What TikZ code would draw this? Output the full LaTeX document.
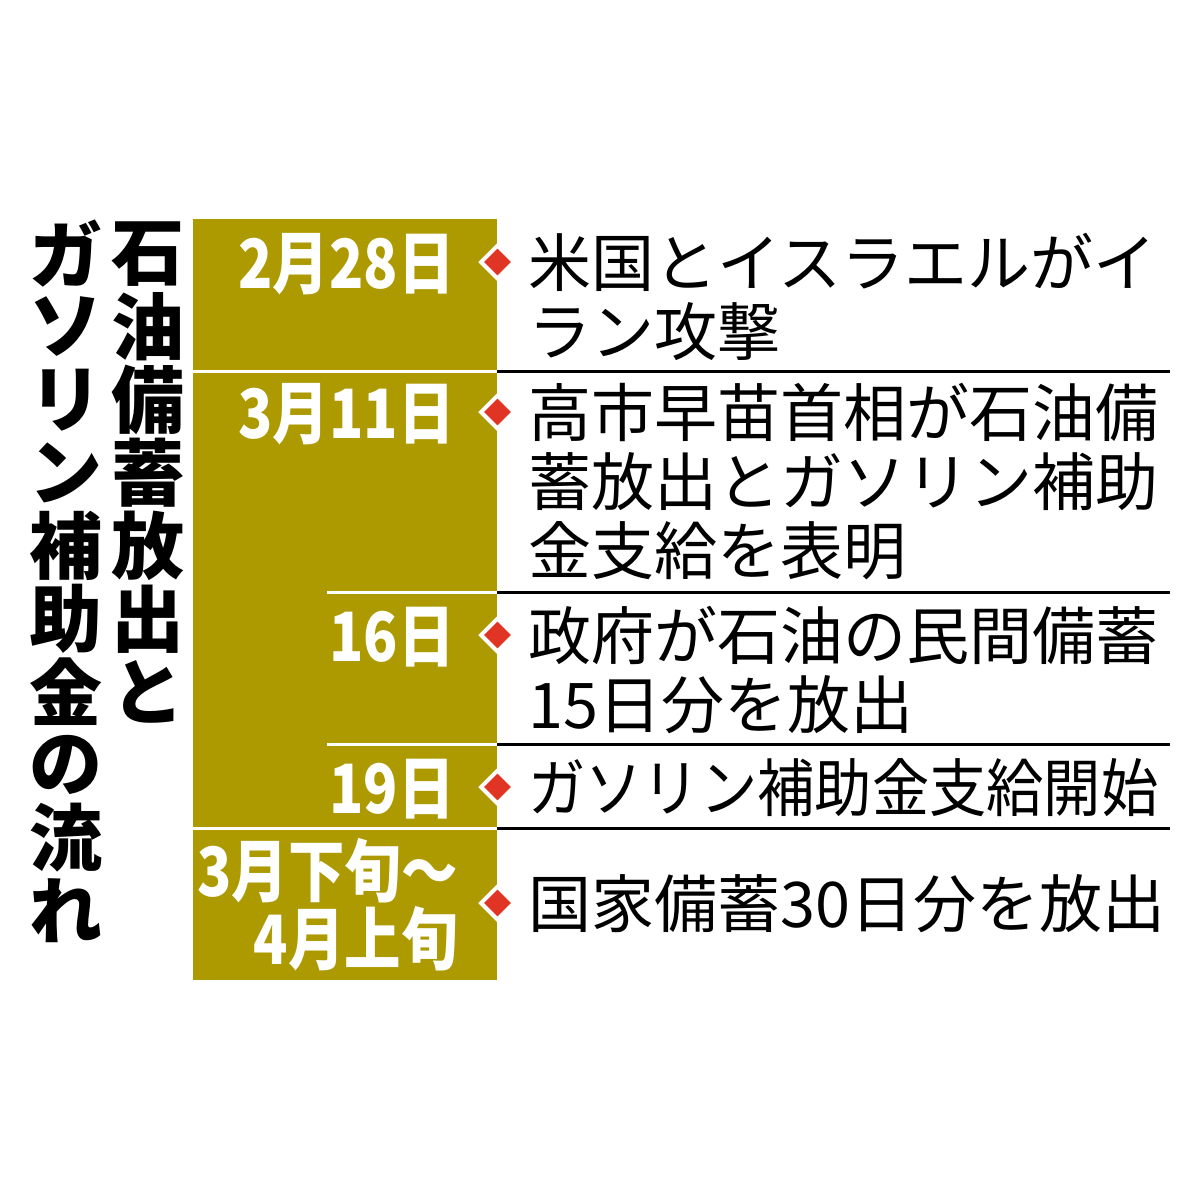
\documentclass[tikz,border=0pt]{standalone}
\usepackage{fontspec}
\usepackage{graphicx}
\newfontfamily\jpfont{Noto Sans CJK JP}
\usetikzlibrary{shapes.geometric}
\definecolor{bandolive}{RGB}{173,154,0}
\definecolor{markred}{RGB}{224,52,36}

\begin{document}
\begin{tikzpicture}[x=0.5pt,y=-0.5pt,
  datelabel/.style={text=white,font=\jpfont\bfseries\fontsize{34}{34}\selectfont,anchor=base east,inner sep=0,align=right},
  eventtext/.style={font=\jpfont\fontsize{31.5}{34.5}\selectfont,anchor=base west,inner sep=0,align=left},
  marker/.style={diamond,fill=markred,draw=white,line width=2pt,minimum width=17.25pt,minimum height=17.25pt,inner sep=0},
  titlechar/.style={font=\jpfont\bfseries\fontsize{36.5}{36.5}\selectfont,inner sep=0}]
\useasboundingbox (0,0) rectangle (1200,1200);

% title, set vertically
\foreach \c [count=\i from 0] in {石,油,備,蓄,放,出,と}
  \node[titlechar] (ta\i) at (148,{254+73*\i}) {\c};
\foreach \c [count=\i from 0] in {ガ,ソ,リ,ン,補,助,金,の,流,れ}
  \node[titlechar] (tb\i) at (66,{254+73*\i}) {\c};

% date band
\fill[bandolive] (193,219) rectangle (497,980);
\begin{scope}[line width=1.5pt]
  \draw[white] (193,371) -- (497,371);
  \draw[white] (327,592) -- (497,592);
  \draw[white] (327,744) -- (497,744);
  \draw[white] (193,828) -- (497,828);
  \draw (497,371) -- (1170,371);
  \draw (497,592) -- (1170,592);
  \draw (497,744) -- (1170,744);
  \draw (497,828) -- (1170,828);
\end{scope}

% dates (base = last line)
\node[datelabel] (d1) at (455,288) {\scalebox{0.83}[1]{2月28日}};
\node[datelabel] (d2) at (455,438) {\scalebox{0.83}[1]{3月11日}};
\node[datelabel] (d3) at (455,661) {\scalebox{0.83}[1]{16日}};
\node[datelabel] (d4) at (455,813) {\scalebox{0.83}[1]{19日}};
\node[datelabel] (d5) at (458,964) {\scalebox{0.83}[1]{3月下旬～}\\\scalebox{0.83}[1]{4月上旬}};

% markers
\node[marker] (m1) at (497.5,262) {};
\node[marker] (m2) at (497.5,412) {};
\node[marker] (m3) at (497.5,635) {};
\node[marker] (m4) at (497.5,787) {};
\node[marker] (m5) at (497.5,903) {};

% events (base = last line)
\node[eventtext] (e1) at (528,355) {米国とイスラエルがイ\\ラン攻撃};
\node[eventtext] (e2) at (528,574) {高市早苗首相が石油備\\蓄放出とガソリン補助\\金支給を表明};
\node[eventtext] (e3) at (528,728) {政府が石油の民間備蓄\\15日分を放出};
\node[eventtext] (e4) at (528,811) {\scalebox{0.909}[1]{ガソリン補助金支給開始}};
\node[eventtext] (e5) at (528,927) {国家備蓄30日分を放出};
\end{tikzpicture}
\end{document}
